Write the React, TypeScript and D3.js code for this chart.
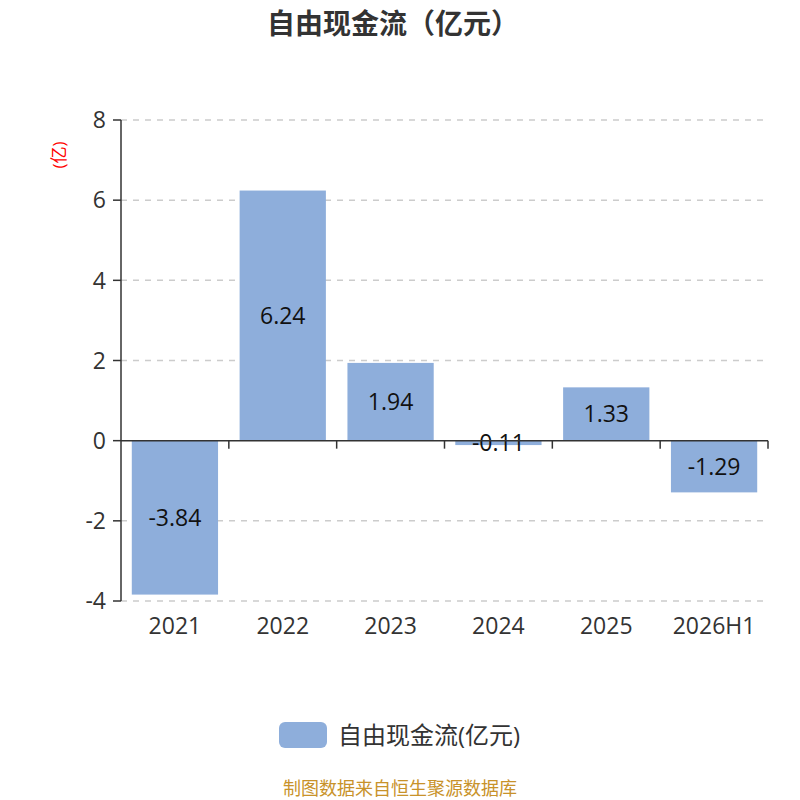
import React from "react";
import * as d3 from "d3";

const categories = ["2021", "2022", "2023", "2024", "2025", "2026H1"];
const values = [-3.84, 6.24, 1.94, -0.11, 1.33, -1.29];
const yTicks = [-4, -2, 0, 2, 4, 6, 8];
const title = "自由现金流（亿元）";
const seriesName = "自由现金流(亿元)";
const unitLabel = "(亿)";
const footer = "制图数据来自恒生聚源数据库";

const W = 800;
const H = 800;
const left = 121;
const right = 768;
const top = 120;
const bottom = 601;
const font = "'Open Sans', 'Noto Sans CJK SC', sans-serif";

export default function App() {
  const x = d3.scaleBand<string>().domain(categories).range([left, right]).paddingInner(0.2).paddingOuter(0.1);
  const xb = d3.scaleBand<string>().domain(categories).range([left, right]);
  const y = d3.scaleLinear().domain([-4, 8]).range([bottom, top]);
  const y0 = y(0);
  const color = "#8eaedb";
  return (
    <svg width={W} height={H} style={{ display: "block", position: "absolute", left: 0, top: 0 }} fontFamily={font}>
      <rect width={W} height={H} fill="#fff" />
      <text x={393} y={24} dy="0.36em" textAnchor="middle" fontSize={28} fontWeight="bold" fill="#333">{title}</text>
      <text transform={`translate(59,155) rotate(-90)`} dy="0.35em" textAnchor="middle" fontSize={17} fill="red">{unitLabel}</text>
      {yTicks.map((t) => (
        <g key={t}>
          {t !== 0 && (
            <line x1={left} x2={right} y1={y(t)} y2={y(t)} stroke="#ccc" strokeWidth={1.5} strokeDasharray="6,6" />
          )}
          <line x1={left - 8} x2={left} y1={y(t)} y2={y(t)} stroke="#333" strokeWidth={1.5} />
          <text x={left - 15} y={y(t)} dy="0.36em" textAnchor="end" fontSize={23} fill="#333">{t}</text>
        </g>
      ))}
      {categories.map((c, i) => {
        const v = values[i];
        const bx = x(c)!;
        const bw = x.bandwidth();
        const yt = Math.min(y(v), y0);
        const h = Math.abs(y(v) - y0);
        return (
          <g key={c}>
            <rect x={bx} y={yt} width={bw} height={h} fill={color} />
            <text x={bx + bw / 2} y={(y(v) + y0) / 2} dy="0.36em" textAnchor="middle" fontSize={23} fill="#111">{v.toFixed(2)}</text>
            <text x={xb(c)! + xb.bandwidth() / 2} y={626} dy="0.36em" textAnchor="middle" fontSize={23} fill="#333">{c}</text>
          </g>
        );
      })}
      <line x1={left} x2={right} y1={y0} y2={y0} stroke="#333" strokeWidth={1.5} />
      {categories.map((c) => (
        <line key={c} x1={xb(c)! + xb.bandwidth()} x2={xb(c)! + xb.bandwidth()} y1={y0} y2={y0 + 8} stroke="#333" strokeWidth={1.5} />
      ))}
      <line x1={left} x2={left} y1={top} y2={bottom} stroke="#333" strokeWidth={1.5} />
      <rect x={279} y={722} width={48} height={26} rx={6} fill={color} />
      <text x={338} y={735} dy="0.36em" fontSize={24} fill="#333">{seriesName}</text>
      <text x={400} y={789} dy="0.36em" textAnchor="middle" fontSize={18} fill="#c8922a">{footer}</text>
    </svg>
  );
}
